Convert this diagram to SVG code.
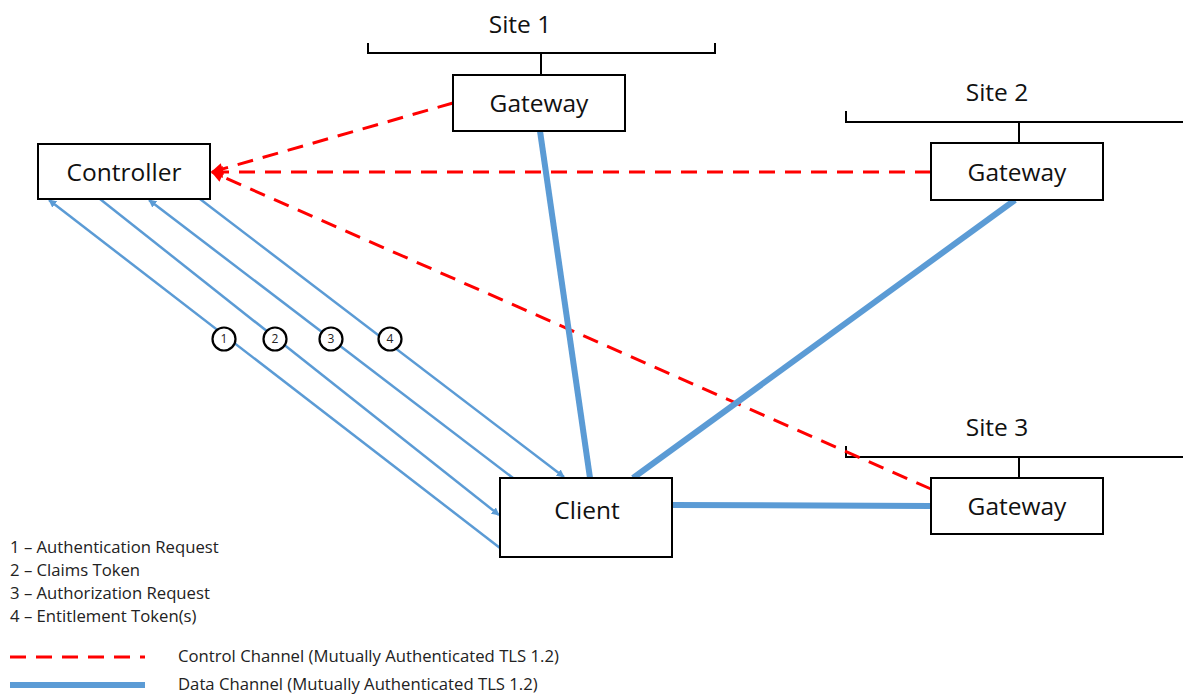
<svg xmlns="http://www.w3.org/2000/svg" width="1183" height="694" viewBox="0 0 1183 694">
<style>
.box{fill:#fff;stroke:#000;stroke-width:2}
.lbl{font-family:"Open Sans","Noto Sans","Liberation Sans",sans-serif;font-size:24.5px;fill:#111;text-anchor:middle}
.site{font-family:"Open Sans","Noto Sans","Liberation Sans",sans-serif;font-size:24.5px;fill:#111;text-anchor:middle}
.br{fill:none;stroke:#000;stroke-width:2}
.ctl{fill:none;stroke:#ff0000;stroke-width:3;stroke-dasharray:16,10}
.dat{fill:none;stroke:#5b9bd5;stroke-width:6}
.msg{fill:none;stroke:#5b9bd5;stroke-width:2.5}
.num{fill:#fff;stroke:#000;stroke-width:2.2}
.numt{font-family:"Open Sans","Noto Sans","Liberation Sans",sans-serif;font-size:12px;fill:#222;text-anchor:middle}
.leg{font-family:"Open Sans","Noto Sans","Liberation Sans",sans-serif;font-size:16.7px;fill:#222}
</style>
<defs>
<marker id="ab" viewBox="0 0 10 10" refX="9" refY="5" markerWidth="8" markerHeight="8" orient="auto" markerUnits="userSpaceOnUse">
<path d="M0,0 L10,5 L0,10 z" fill="#5b9bd5"/>
</marker>
<marker id="ar" viewBox="0 0 10 10" refX="9" refY="5" markerWidth="14" markerHeight="12" orient="auto" markerUnits="userSpaceOnUse">
<path d="M0,0 L10,5 L0,10 z" fill="#ff0000"/>
</marker>
</defs>
<g id="brackets">
<path class="br" d="M368,43 V53 H715 V43 M541,53 V75"/>
<path class="br" d="M846,111 V122 H1183 M1019,122 V143"/>
<path class="br" d="M846,446 V457 H1183 M1019,457 V478"/>
<text class="site" x="520" y="33">Site 1</text>
<text class="site" x="997" y="101">Site 2</text>
<text class="site" x="997" y="436">Site 3</text>
</g>
<g id="connectors">
<line class="ctl" x1="453" y1="103" x2="212" y2="172" marker-end="url(#ar)"/>
<line class="ctl" x1="931" y1="172" x2="212" y2="172" marker-end="url(#ar)"/>
<line class="ctl" x1="931" y1="489" x2="212" y2="172" marker-end="url(#ar)"/>
<line class="dat" x1="540" y1="131" x2="590" y2="478"/>
<line class="dat" x1="1015" y1="200" x2="633" y2="478"/>
<line class="dat" x1="672" y1="505" x2="931" y2="506"/>
<line class="msg" x1="500" y1="548" x2="49" y2="200" marker-end="url(#ab)"/>
<line class="msg" x1="100" y1="199" x2="499" y2="515" marker-end="url(#ab)"/>
<line class="msg" x1="513" y1="478" x2="149" y2="200" marker-end="url(#ab)"/>
<line class="msg" x1="200" y1="199" x2="564" y2="477" marker-end="url(#ab)"/>
<circle class="num" cx="224" cy="339" r="11.5"/><text class="numt" x="224" y="343">1</text>
<circle class="num" cx="275" cy="339" r="11.5"/><text class="numt" x="275" y="343">2</text>
<circle class="num" cx="331" cy="339" r="11.5"/><text class="numt" x="331" y="343">3</text>
<circle class="num" cx="390" cy="339" r="11.5"/><text class="numt" x="390" y="343">4</text>
</g>
<g id="controller"><rect class="box" x="38" y="144" width="172" height="55"/><text class="lbl" x="124" y="181">Controller</text></g>
<g id="gateway1"><rect class="box" x="453" y="75" width="172" height="56"/><text class="lbl" x="539" y="112">Gateway</text></g>
<g id="gateway2"><rect class="box" x="931" y="143" width="172" height="57"/><text class="lbl" x="1017" y="181">Gateway</text></g>
<g id="gateway3"><rect class="box" x="931" y="478" width="172" height="56"/><text class="lbl" x="1017" y="515">Gateway</text></g>
<g id="client"><rect class="box" x="500" y="478" width="172" height="79"/><text class="lbl" x="587" y="519">Client</text></g>
<g id="legend">
<text class="leg" x="10" y="553">1 – Authentication Request</text>
<text class="leg" x="10" y="576">2 – Claims Token</text>
<text class="leg" x="10" y="599">3 – Authorization Request</text>
<text class="leg" x="10" y="622">4 – Entitlement Token(s)</text>
<line class="ctl" x1="10" y1="657" x2="145" y2="657"/>
<line class="dat" x1="10" y1="685" x2="145" y2="685"/>
<text class="leg" x="178" y="662">Control Channel (Mutually Authenticated TLS 1.2)</text>
<text class="leg" x="178" y="690">Data Channel (Mutually Authenticated TLS 1.2)</text>
</g>
</svg>
